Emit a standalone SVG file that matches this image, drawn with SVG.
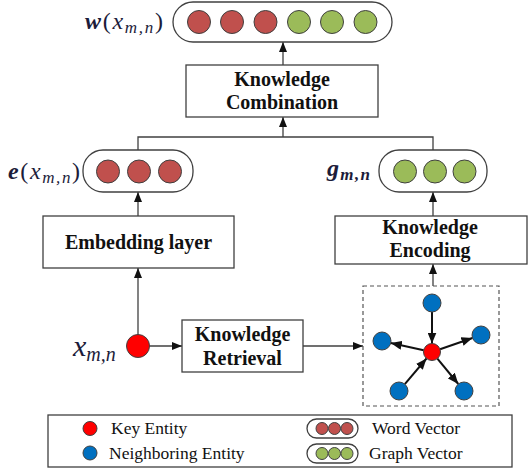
<svg xmlns="http://www.w3.org/2000/svg" width="530" height="472" viewBox="0 0 530 472">
  <style>
    .box { fill: #ffffff; stroke: #404040; stroke-width: 1.3; }
    .pill { fill: #ffffff; stroke: #404040; stroke-width: 1.3; }
    .word { fill: #C0504D; stroke: #404040; stroke-width: 1; }
    .graph { fill: #9BBB59; stroke: #404040; stroke-width: 1; }
    .key { fill: #FF0000; stroke: #404040; stroke-width: 1; }
    .nbr { fill: #0070C0; stroke: #404040; stroke-width: 1; }
    .lbl { font-family: "Liberation Serif", "Times New Roman", serif; font-weight: bold; font-size: 20px; fill: #111111; text-anchor: middle; }
    .leg { font-family: "Liberation Serif", "Times New Roman", serif; font-size: 17.5px; fill: #111111; }
    .math { font-family: "Liberation Serif", "Times New Roman", serif; font-style: italic; fill: #1c1c3a; }
    .conn { fill: none; stroke: #404040; stroke-width: 1.3; }
    .edge { fill: none; stroke: #111111; stroke-width: 2; }
  </style>
  <defs>
    <marker id="arrow" markerUnits="userSpaceOnUse" markerWidth="10" markerHeight="8" refX="10" refY="4" orient="auto">
      <path d="M0,0 L10,4 L0,8 z" fill="#111111"/>
    </marker>
    <marker id="arrowG" markerUnits="userSpaceOnUse" markerWidth="11" markerHeight="9" refX="11" refY="4.5" orient="auto">
      <path d="M0,0 L11,4.5 L0,9 z" fill="#111111"/>
    </marker>
  </defs>

  <!-- connectors -->
  <g id="connectors">
    <line class="conn" x1="283" y1="65" x2="283" y2="42" marker-end="url(#arrow)"/>
    <polyline class="conn" points="138,150 138,137 433,137 433,150"/>
    <line class="conn" x1="283" y1="137" x2="283" y2="117" marker-end="url(#arrow)"/>
    <line class="conn" x1="138" y1="216" x2="138" y2="192" marker-end="url(#arrow)"/>
    <line class="conn" x1="433" y1="216" x2="433" y2="192" marker-end="url(#arrow)"/>
    <line class="conn" x1="138" y1="334.5" x2="138" y2="268" marker-end="url(#arrow)"/>
    <line class="conn" x1="433" y1="286" x2="433" y2="264" marker-end="url(#arrow)"/>
    <line class="conn" x1="149.5" y1="346" x2="182" y2="346" marker-end="url(#arrow)"/>
    <line class="conn" x1="303" y1="346" x2="363" y2="346" marker-end="url(#arrow)"/>
  </g>

  <!-- combined word vector -->
  <g id="w-vector">
    <rect class="pill" x="173" y="2" width="219" height="40" rx="20"/>
    <circle class="word" cx="199" cy="22" r="11.5"/>
    <circle class="word" cx="232" cy="22" r="11.5"/>
    <circle class="word" cx="265.5" cy="22" r="11.5"/>
    <circle class="graph" cx="299" cy="22" r="11.5"/>
    <circle class="graph" cx="332" cy="22" r="11.5"/>
    <circle class="graph" cx="365.5" cy="22" r="11.5"/>
    <text class="math" x="85" y="29" font-size="24" textLength="78" lengthAdjust="spacing"><tspan font-weight="bold">w</tspan><tspan font-style="normal">(</tspan>x<tspan font-size="17" dy="4">m,n</tspan><tspan font-style="normal" dy="-4">)</tspan></text>
  </g>

  <g id="knowledge-combination">
    <rect class="box" x="186" y="65" width="192" height="52"/>
    <text class="lbl" x="282" y="86">Knowledge</text>
    <text class="lbl" x="282" y="109">Combination</text>
  </g>

  <!-- embedding vector -->
  <g id="e-vector">
    <rect class="pill" x="83" y="150" width="110" height="42" rx="20"/>
    <circle class="word" cx="108" cy="171.5" r="11.5"/>
    <circle class="word" cx="139" cy="171.5" r="11.5"/>
    <circle class="word" cx="170" cy="171.5" r="11.5"/>
    <text class="math" x="8" y="179" font-size="24" textLength="72" lengthAdjust="spacing"><tspan font-weight="bold">e</tspan><tspan font-style="normal">(</tspan>x<tspan font-size="17" dy="4">m,n</tspan><tspan font-style="normal" dy="-4">)</tspan></text>
  </g>

  <!-- graph vector -->
  <g id="g-vector">
    <rect class="pill" x="379" y="150" width="108" height="42" rx="20"/>
    <circle class="graph" cx="405" cy="171.5" r="11.5"/>
    <circle class="graph" cx="435" cy="171.5" r="11.5"/>
    <circle class="graph" cx="464.5" cy="171.5" r="11.5"/>
    <text class="math" x="327" y="176" font-size="24" font-weight="bold" textLength="43" lengthAdjust="spacing">g<tspan font-size="17" dy="4">m,n</tspan></text>
  </g>

  <g id="embedding-layer">
    <rect class="box" x="43" y="216" width="191" height="52"/>
    <text class="lbl" x="138.5" y="249">Embedding layer</text>
  </g>

  <g id="knowledge-encoding">
    <rect class="box" x="335" y="216" width="192" height="48"/>
    <text class="lbl" x="430" y="234">Knowledge</text>
    <text class="lbl" x="430" y="257">Encoding</text>
  </g>

  <!-- input entity -->
  <g id="x-entity">
    <circle class="key" cx="138" cy="346" r="11.5"/>
    <text class="math" x="73" y="356" font-size="30">x<tspan font-size="20" dy="5">m,n</tspan></text>
  </g>

  <g id="knowledge-retrieval">
    <rect class="box" x="182" y="320" width="121" height="52"/>
    <text class="lbl" x="242.5" y="341">Knowledge</text>
    <text class="lbl" x="242.5" y="365">Retrieval</text>
  </g>

  <!-- retrieved subgraph -->
  <g id="subgraph">
    <rect x="363" y="286" width="136" height="120" fill="none" stroke="#555555" stroke-width="1.2" stroke-dasharray="4,3"/>
    <line class="edge" x1="432" y1="312" x2="432" y2="343.5" marker-end="url(#arrowG)"/>
    <line class="edge" x1="423.7" y1="350.2" x2="390.8" y2="342.9" marker-end="url(#arrowG)"/>
    <line class="edge" x1="440" y1="349.2" x2="472.5" y2="338" marker-end="url(#arrowG)"/>
    <line class="edge" x1="404.8" y1="384.1" x2="426.5" y2="358.5" marker-end="url(#arrowG)"/>
    <line class="edge" x1="437.4" y1="358.6" x2="458.3" y2="384" marker-end="url(#arrowG)"/>
    <circle class="nbr" cx="432" cy="303" r="9"/>
    <circle class="nbr" cx="382" cy="341" r="9"/>
    <circle class="nbr" cx="481" cy="335" r="9"/>
    <circle class="nbr" cx="399" cy="391" r="9"/>
    <circle class="nbr" cx="464" cy="391" r="9"/>
    <circle class="key" cx="432" cy="352" r="8.5"/>
  </g>

  <!-- legend -->
  <g id="legend">
    <rect x="48" y="415" width="464" height="52" fill="#ffffff" stroke="#404040" stroke-width="1.3"/>
    <circle class="key" cx="90" cy="428.5" r="7"/>
    <text class="leg" x="111" y="434">Key Entity</text>
    <circle class="nbr" cx="90" cy="453" r="7"/>
    <text class="leg" x="109" y="459">Neighboring Entity</text>
    <rect class="pill" x="307" y="419" width="51" height="19" rx="9.5"/>
    <circle class="word" cx="322" cy="428.5" r="6"/>
    <circle class="word" cx="334.5" cy="428.5" r="6"/>
    <circle class="word" cx="347" cy="428.5" r="6"/>
    <text class="leg" x="372" y="434">Word Vector</text>
    <rect class="pill" x="307" y="444" width="51" height="19" rx="9.5"/>
    <circle class="graph" cx="322" cy="453.5" r="6"/>
    <circle class="graph" cx="334.5" cy="453.5" r="6"/>
    <circle class="graph" cx="347" cy="453.5" r="6"/>
    <text class="leg" x="369" y="459">Graph Vector</text>
  </g>
</svg>
